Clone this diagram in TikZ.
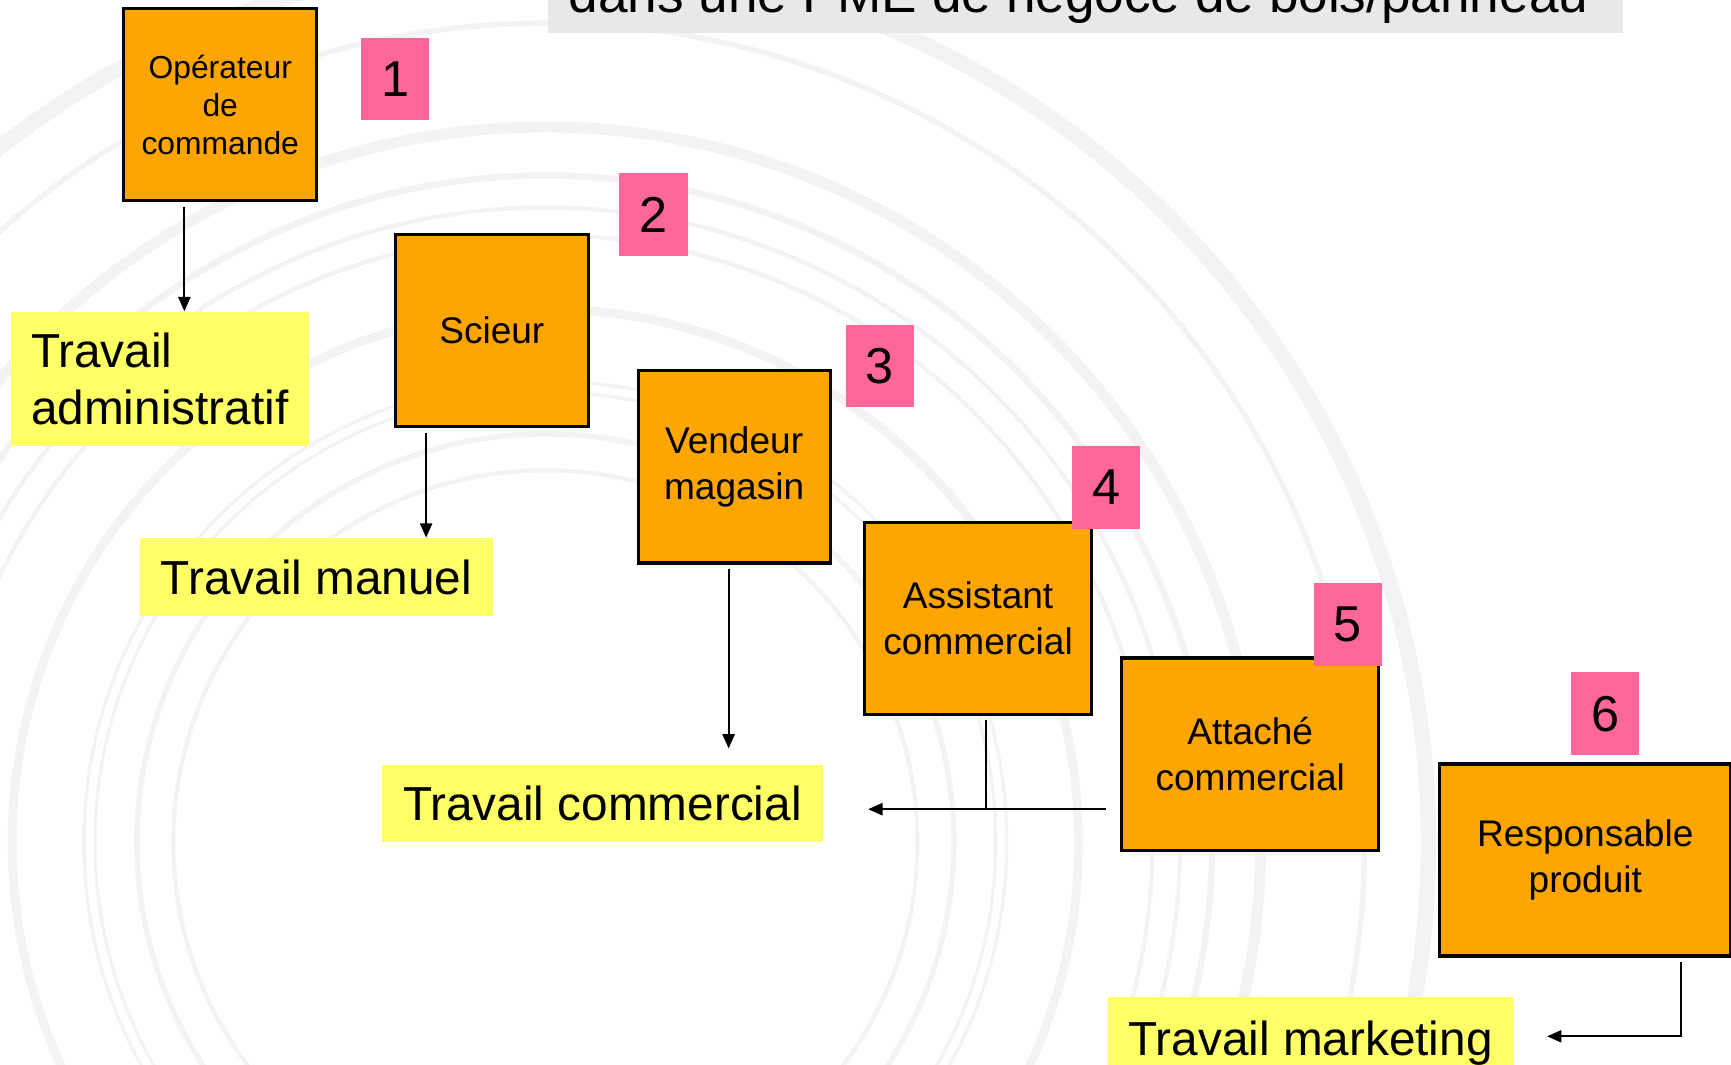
\documentclass[tikz,border=0pt]{standalone}
\usepackage{fontspec}
\setmainfont{Liberation Sans}
\usepackage{tikz}
\usetikzlibrary{arrows.meta,positioning,calc}
\definecolor{posteorange}{HTML}{FFA500}
\definecolor{travailjaune}{HTML}{FFFF66}
\definecolor{numrose}{HTML}{FF6699}
\definecolor{titregris}{HTML}{E8E8E8}
\definecolor{anneaugris}{HTML}{F3F3F3}

\begin{document}
\begin{tikzpicture}[
  poste/.style={draw=black, line width=0.8pt, fill=posteorange, minimum height=1.74cm, inner sep=0pt, align=center, font=\fontsize{9.55}{11.7}\selectfont},
  numero/.style={fill=numrose, minimum width=0.62cm, minimum height=0.75cm, inner sep=0pt, font=\fontsize{13}{15}\selectfont},
  travail/.style={fill=travailjaune, anchor=north west, inner xsep=0.18cm, inner ysep=0pt, minimum height=0.70cm, align=left, font=\fontsize{12.3}{14.8}\selectfont},
  lien/.style={line width=0.5pt, -{Triangle[length=1.3mm,width=1.1mm]}},
  anneau/.style={draw=anneaugris},
]
\useasboundingbox (0,0) rectangle (15.68,-9.64);

% ===================== Fond : anneaux =====================
\foreach \r/\w in {3.37/1.14, 3.70/1.42, 4.08/0.85, 4.18/0.85, 4.83/2.28, 5.50/1.14, 5.75/1.14, 6.04/1.7, 6.48/2.85, 7.42/1.42, 8.00/4}
  \draw[anneau, line width=\w pt] (4.94,-7.63) circle (\r);

% ===================== Titre (coupe en haut) =====================
\fill[titregris] (4.96,0.8) rectangle (14.70,-0.30);
\node[anchor=base, inner sep=0pt, font=\fontsize{13.7}{16}\selectfont] (titre) at (9.77,-0.11) {dans une PME de négoce de bois/panneau};

% ===================== Postes =====================
\node[poste, minimum width=1.75cm, font=\fontsize{8.2}{9.7}\selectfont] (op) at (1.995,-0.95) {Opérateur\\de\\commande};
\node[poste, minimum width=1.75cm] (sci) at (4.455,-2.995) {Scieur};
\node[poste, minimum width=1.74cm] (vend) at (6.65,-4.23) {Vendeur\\magasin};
\node[poste, minimum width=2.06cm] (asst) at (8.86,-5.60) {Assistant\\commercial};
\node[poste, minimum width=2.33cm] (att) at (11.325,-6.83) {Attaché\\commercial};
\node[poste, minimum width=2.64cm] (resp) at (14.36,-7.79) {Responsable\\produit};

% Numeros
\node[numero] (n1) at (3.58,-0.715) {1};
\node[numero] (n2) at (5.92,-1.945) {2};
\node[numero] (n3) at (7.97,-3.315) {3};
\node[numero] (n4) at (10.02,-4.415) {4};
\node[numero] (n5) at (12.21,-5.655) {5};
\node[numero] (n6) at (14.54,-6.465) {6};

% ===================== Types de travail =====================
\node[travail, minimum width=2.70cm, minimum height=1.21cm] (adm) at (0.09,-2.82) {Travail\\administratif};
\node[travail, minimum width=3.20cm] (man) at (1.26,-4.87) {Travail manuel};
\node[travail, minimum width=4.00cm] (com) at (3.45,-6.92) {Travail commercial};
\node[travail, minimum width=3.67cm, minimum height=0.84cm] (mkt) at (10.03,-9.02) {Travail marketing};

% ===================== Liens =====================
\coordinate (a1) at ($(op.south)+(-0.325,-0.04)$);
\draw[lien] (a1) -- (a1 |- adm.north);

\coordinate (a2) at ($(sci.south)+(-0.595,-0.04)$);
\draw[lien] (a2) -- (a2 |- man.north);

\coordinate (a3) at ($(vend.south)+(-0.05,-0.04)$);
\draw[lien] (a3) -- ($(a3 |- com.north)+(0,0.14)$);

\coordinate (a4) at ($(asst.south)+(0.07,-0.04)$);
\coordinate (a5) at ($(att.west)+(-0.13,-0.50)$);
\draw[line width=0.5pt] (a4) -- (a4 |- a5);
\draw[lien] (a5) -- ($(a5 -| com.east)+(0.40,0)$);

\coordinate (a6) at ($(resp.south)+(0.87,-0.04)$);
\draw[lien] (a6) |- ($(mkt.east)+(0.30,0.06)$);

\end{tikzpicture}
\end{document}
